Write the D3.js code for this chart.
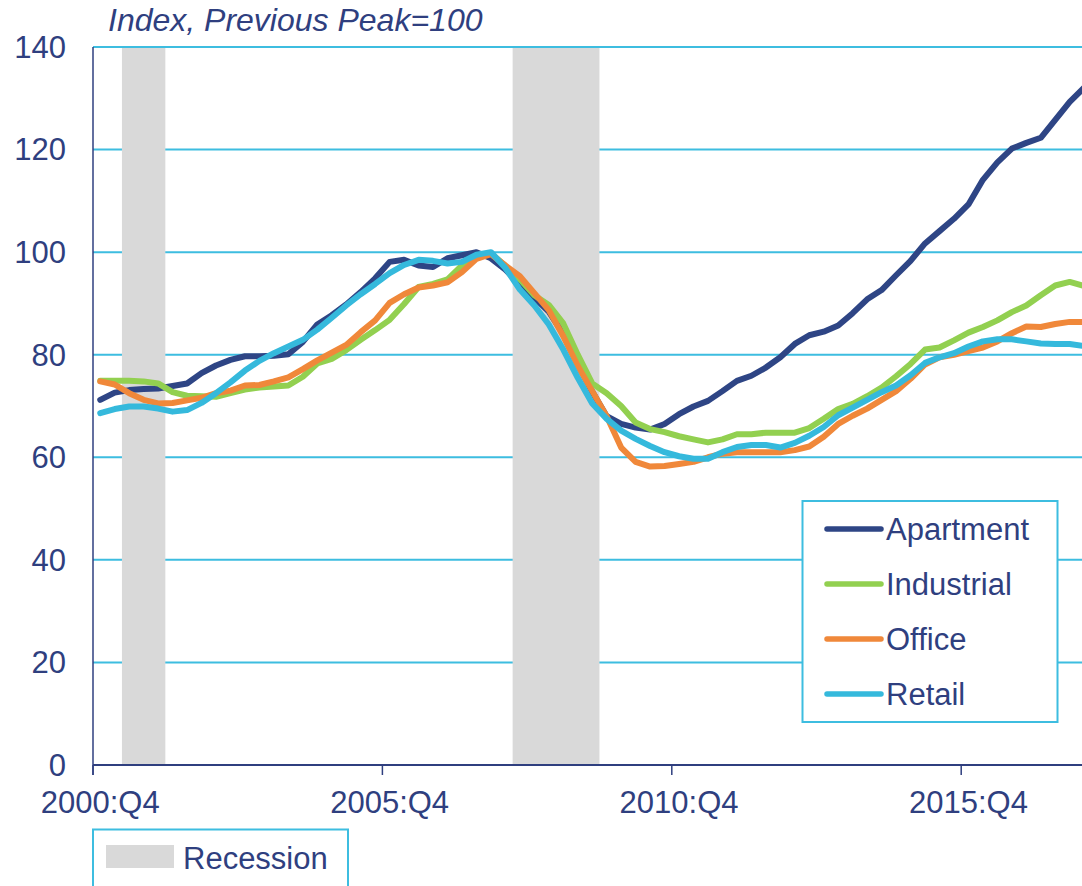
<!DOCTYPE html>
<html>
<head>
<meta charset="utf-8">
<script src="https://cdn.jsdelivr.net/npm/d3@7"></script>
<style>
  html, body { margin: 0; padding: 0; background: #ffffff; }
  svg { display: block; }
  text { font-family: "Liberation Sans", Arial, sans-serif; }
</style>
</head>
<body>
<svg id="chart" width="1082" height="886"></svg>
<script>
// ---------- DATA ----------
const startYear = 2000, startQuarter = 4, nQuarters = 69;
const categories = [];
for (let i = 0; i < nQuarters; i++) {
  const q = startQuarter - 1 + i;
  categories.push((startYear + Math.floor(q / 4)) + ":Q" + (q % 4 + 1));
}
const tickLabels = ["2000:Q4", "2005:Q4", "2010:Q4", "2015:Q4"];
const yTicks = [0, 20, 40, 60, 80, 100, 120, 140];

const seriesNames = ["Apartment", "Industrial", "Office", "Retail"];

const apartment = [71.2,72.6,73.1,73.3,73.4,73.9,74.4,76.4,77.9,79.0,
  79.7,79.7,79.8,80.1,82.5,85.9,87.7,89.8,92.2,94.9,
  98.1,98.5,97.4,97.1,98.8,99.4,100.0,98.8,96.6,93.7,
  91.1,88.4,84.0,78.1,72.8,68.0,66.5,65.8,65.4,66.5,
  68.4,69.9,71.0,72.9,74.9,75.9,77.5,79.5,82.1,83.8,
  84.5,85.7,88.1,90.8,92.6,95.5,98.3,101.7,104.1,106.5,
  109.3,114.1,117.5,120.2,121.3,122.3,125.8,129.3,132.1];

const industrial = [74.9,74.9,74.9,74.8,74.4,72.7,72.0,71.9,71.8,72.5,
  73.2,73.6,73.8,74.0,75.7,78.3,79.2,80.9,82.9,84.8,
  86.8,89.9,93.2,93.8,94.7,97.4,99.0,99.8,97.3,94.7,
  91.6,89.7,86.1,80.0,74.4,72.5,70.0,66.8,65.5,64.9,
  64.1,63.5,62.9,63.5,64.5,64.5,64.8,64.8,64.8,65.7,
  67.5,69.4,70.4,71.9,73.6,75.8,78.2,81.0,81.4,82.8,
  84.3,85.4,86.7,88.3,89.6,91.6,93.5,94.2,93.4];

const office = [74.8,74.2,72.5,71.2,70.5,70.6,71.1,71.6,72.5,73.0,
  74.0,74.1,74.8,75.6,77.2,78.9,80.4,81.9,84.4,86.7,
  90.1,91.8,93.1,93.5,94.1,96.1,98.7,99.6,97.4,95.3,
  92.0,88.7,83.6,77.8,72.9,68.0,61.9,59.1,58.2,58.3,
  58.7,59.1,60.0,60.7,61.0,61.0,61.0,61.0,61.4,62.1,
  64.0,66.5,68.1,69.5,71.2,72.9,75.3,78.1,79.5,80.0,
  80.7,81.4,82.6,84.2,85.5,85.4,86.0,86.4,86.4];

const retail = [68.6,69.4,69.9,69.9,69.5,68.9,69.2,70.6,72.5,74.6,
  76.9,78.8,80.3,81.6,82.9,84.9,87.2,89.6,91.8,93.8,
  95.9,97.5,98.5,98.3,97.8,98.1,99.5,100.0,96.9,92.7,
  89.6,85.9,81.0,75.5,70.5,67.5,65.2,63.6,62.2,61.0,
  60.2,59.7,59.7,61.0,62.0,62.4,62.4,61.9,62.8,64.2,
  65.9,68.2,69.7,71.2,72.7,74.0,76.0,78.4,79.5,80.3,
  81.6,82.6,83.0,83.0,82.6,82.2,82.1,82.1,81.7];

const recessionStart = ["2001:Q2", "2008:Q1"];
const recessionEnd   = ["2001:Q4", "2009:Q2"];

// ---------- STYLE ----------
const colors = ["#2E4585", "#92D050", "#F0883A", "#35B9DC"];
const textColor = "#2F3F7F";
const gridColor = "#3DBDE0";
const axisColor = "#2F3F7F";
const recessionColor = "#D9D9D9";
const fontSize = 31;

const svg = d3.select("#chart");
svg.append("rect").attr("width", 1082).attr("height", 886).attr("fill", "#fff");

const plotLeft = 93, plotTop = 47, plotBottom = 765, step = 14.47;
const x = d3.scaleBand().domain(categories)
  .range([plotLeft, plotLeft + step * categories.length]).padding(0);
const y = d3.scaleLinear().domain([0, 140]).range([plotBottom, plotTop]);
const bw = x.bandwidth();
const cx = c => x(c) + bw / 2;

svg.append("defs").append("clipPath").attr("id", "plotclip")
  .append("rect").attr("x", plotLeft).attr("y", 0)
  .attr("width", 1082 - plotLeft).attr("height", plotBottom);

// gridlines
svg.append("g").selectAll("line").data(yTicks.filter(d => d > 0)).join("line")
  .attr("x1", plotLeft).attr("x2", 1082)
  .attr("y1", d => y(d)).attr("y2", d => y(d))
  .attr("stroke", gridColor).attr("stroke-width", 2);

// recession bars
svg.append("g").attr("clip-path", "url(#plotclip)")
  .selectAll("rect").data(recessionStart.map((s, i) => [s, recessionEnd[i]])).join("rect")
  .attr("x", d => x(d[0]))
  .attr("width", d => x(d[1]) + bw - x(d[0]))
  .attr("y", y(140) + 1)
  .attr("height", y(0) - y(140) - 1)
  .attr("fill", recessionColor);

// y axis labels
svg.append("g").selectAll("text").data(yTicks).join("text")
  .attr("x", 66).attr("y", d => y(d)).attr("dy", "0.35em")
  .attr("text-anchor", "end").attr("font-size", fontSize).attr("fill", textColor)
  .text(d => d);

// y axis line
svg.append("line").attr("x1", plotLeft).attr("x2", plotLeft)
  .attr("y1", plotTop).attr("y2", plotBottom + 10)
  .attr("stroke", axisColor).attr("stroke-width", 1.5);

// x axis
svg.append("line").attr("x1", plotLeft).attr("x2", 1082)
  .attr("y1", plotBottom).attr("y2", plotBottom)
  .attr("stroke", axisColor).attr("stroke-width", 2);
const xAxis = d3.axisBottom(x).tickValues(tickLabels).tickSize(0).tickPadding(0);
const gx = svg.append("g").attr("transform", `translate(0,${plotBottom})`).call(xAxis);
gx.select(".domain").remove();
gx.selectAll("text").attr("font-size", fontSize).attr("fill", textColor)
  .attr("font-family", '"Liberation Sans", Arial, sans-serif')
  .attr("dy", null).attr("y", 48);
svg.append("g").selectAll("line").data(tickLabels).join("line")
  .attr("x1", d => x(d)).attr("x2", d => x(d))
  .attr("y1", plotBottom).attr("y2", plotBottom + 10)
  .attr("stroke", axisColor).attr("stroke-width", 1.5);

// series lines
const seriesData = [apartment, industrial, office, retail];
const line = d3.line().x((d, i) => cx(categories[i])).y(d => y(d));
svg.append("g").attr("clip-path", "url(#plotclip)")
  .selectAll("path").data(seriesData).join("path")
  .attr("d", d => line(d))
  .attr("fill", "none")
  .attr("stroke", (d, i) => colors[i])
  .attr("stroke-width", 6)
  .attr("stroke-linejoin", "round")
  .attr("stroke-linecap", "round");

// title
svg.append("text").attr("x", 108).attr("y", 31)
  .attr("font-size", 32).attr("font-style", "italic").attr("fill", textColor)
  .text("Index, Previous Peak=100");

// legend
const lg = svg.append("g");
lg.append("rect").attr("x", 802.5).attr("y", 501).attr("width", 255).attr("height", 221)
  .attr("fill", "#fff").attr("stroke", gridColor).attr("stroke-width", 2);
const items = lg.selectAll("g.item").data(seriesNames).join("g")
  .attr("class", "item")
  .attr("transform", (d, i) => `translate(0,${529 + i * 55})`);
items.append("line").attr("x1", 827).attr("x2", 881).attr("y1", 0).attr("y2", 0)
  .attr("stroke", (d, i) => colors[i]).attr("stroke-width", 5.5).attr("stroke-linecap", "round");
items.append("text").attr("x", 886).attr("y", 0).attr("dy", "0.35em")
  .attr("font-size", fontSize).attr("fill", textColor).text(d => d);

// recession legend
const rl = svg.append("g");
rl.append("rect").attr("x", 93).attr("y", 829.5).attr("width", 255).attr("height", 90)
  .attr("fill", "#fff").attr("stroke", gridColor).attr("stroke-width", 2);
rl.append("rect").attr("x", 106).attr("y", 845).attr("width", 68).attr("height", 23)
  .attr("fill", recessionColor);
rl.append("text").attr("x", 183).attr("y", 869)
  .attr("font-size", fontSize).attr("fill", textColor).text("Recession");
</script>
</body>
</html>
